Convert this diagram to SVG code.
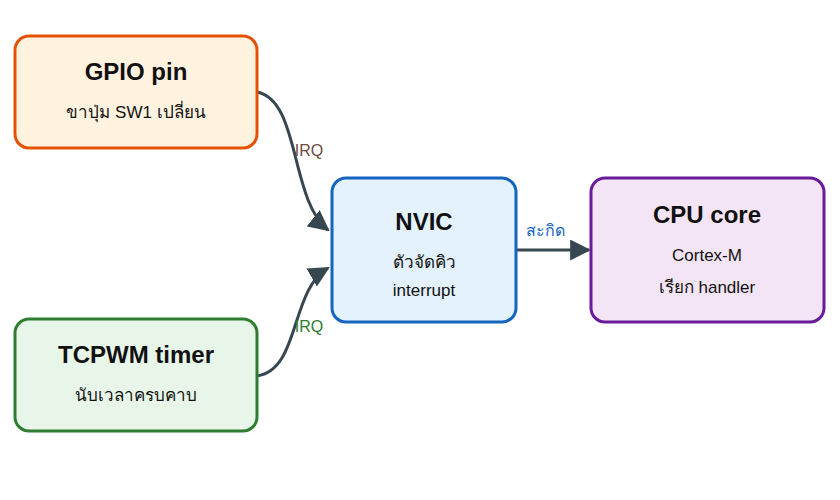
<svg xmlns="http://www.w3.org/2000/svg" width="840" height="500" viewBox="0 0 840 500">
<style>
text{font-family:"Liberation Sans","Noto Sans","DejaVu Sans",sans-serif;text-anchor:middle;fill:#111}
.t{font-size:24px;font-weight:bold}
.s{font-size:17px}
.l{font-size:16px}
.c{fill:none;stroke:#37474f;stroke-width:3}
</style>
<defs><marker id="b" viewBox="0 0 10 10" refX="9" refY="5" markerWidth="7" markerHeight="7" orient="auto"><path d="M0,0L10,5L0,10z" fill="#37474f"/></marker></defs>
<g id="connectors">
<path class="c" d="M257,92 C300,100 290,200 328,230" marker-end="url(#b)"/>
<path class="c" d="M257,376 C300,370 290,290 328,268" marker-end="url(#b)"/>
<path class="c" d="M516,250 L589,250" marker-end="url(#b)"/>
<text x="309" y="156" class="l" style="fill:#6d4c41">IRQ</text>
<text x="309" y="332" class="l" style="fill:#2e7d32">IRQ</text>
<text x="545" y="236" class="l" style="fill:#1565c0">สะกิด</text>
</g>
<g id="gpio"><rect x="15" y="36" width="242" height="112" rx="14" fill="#fff3e0" stroke="#e65100" stroke-width="3"/>
<text x="136" y="80" class="t">GPIO pin</text><text x="136" y="118" class="s">ขาปุ่ม SW1 เปลี่ยน</text></g>
<g id="tcpwm"><rect x="15" y="319" width="242" height="112" rx="14" fill="#e8f5e9" stroke="#2e7d32" stroke-width="3"/>
<text x="136" y="363" class="t">TCPWM timer</text><text x="136" y="401" class="s">นับเวลาครบคาบ</text></g>
<g id="nvic"><rect x="332" y="178" width="184" height="144" rx="14" fill="#e3f2fd" stroke="#1565c0" stroke-width="3"/>
<text x="424" y="230" class="t">NVIC</text><text x="424" y="268" class="s">ตัวจัดคิว</text><text x="424" y="296" class="s">interrupt</text></g>
<g id="cpu"><rect x="591" y="178" width="233" height="144" rx="14" fill="#f3e5f5" stroke="#6a1b9a" stroke-width="3"/>
<text x="707" y="223" class="t">CPU core</text><text x="707" y="261" class="s">Cortex-M</text><text x="707" y="293" class="s">เรียก handler</text></g>
</svg>
